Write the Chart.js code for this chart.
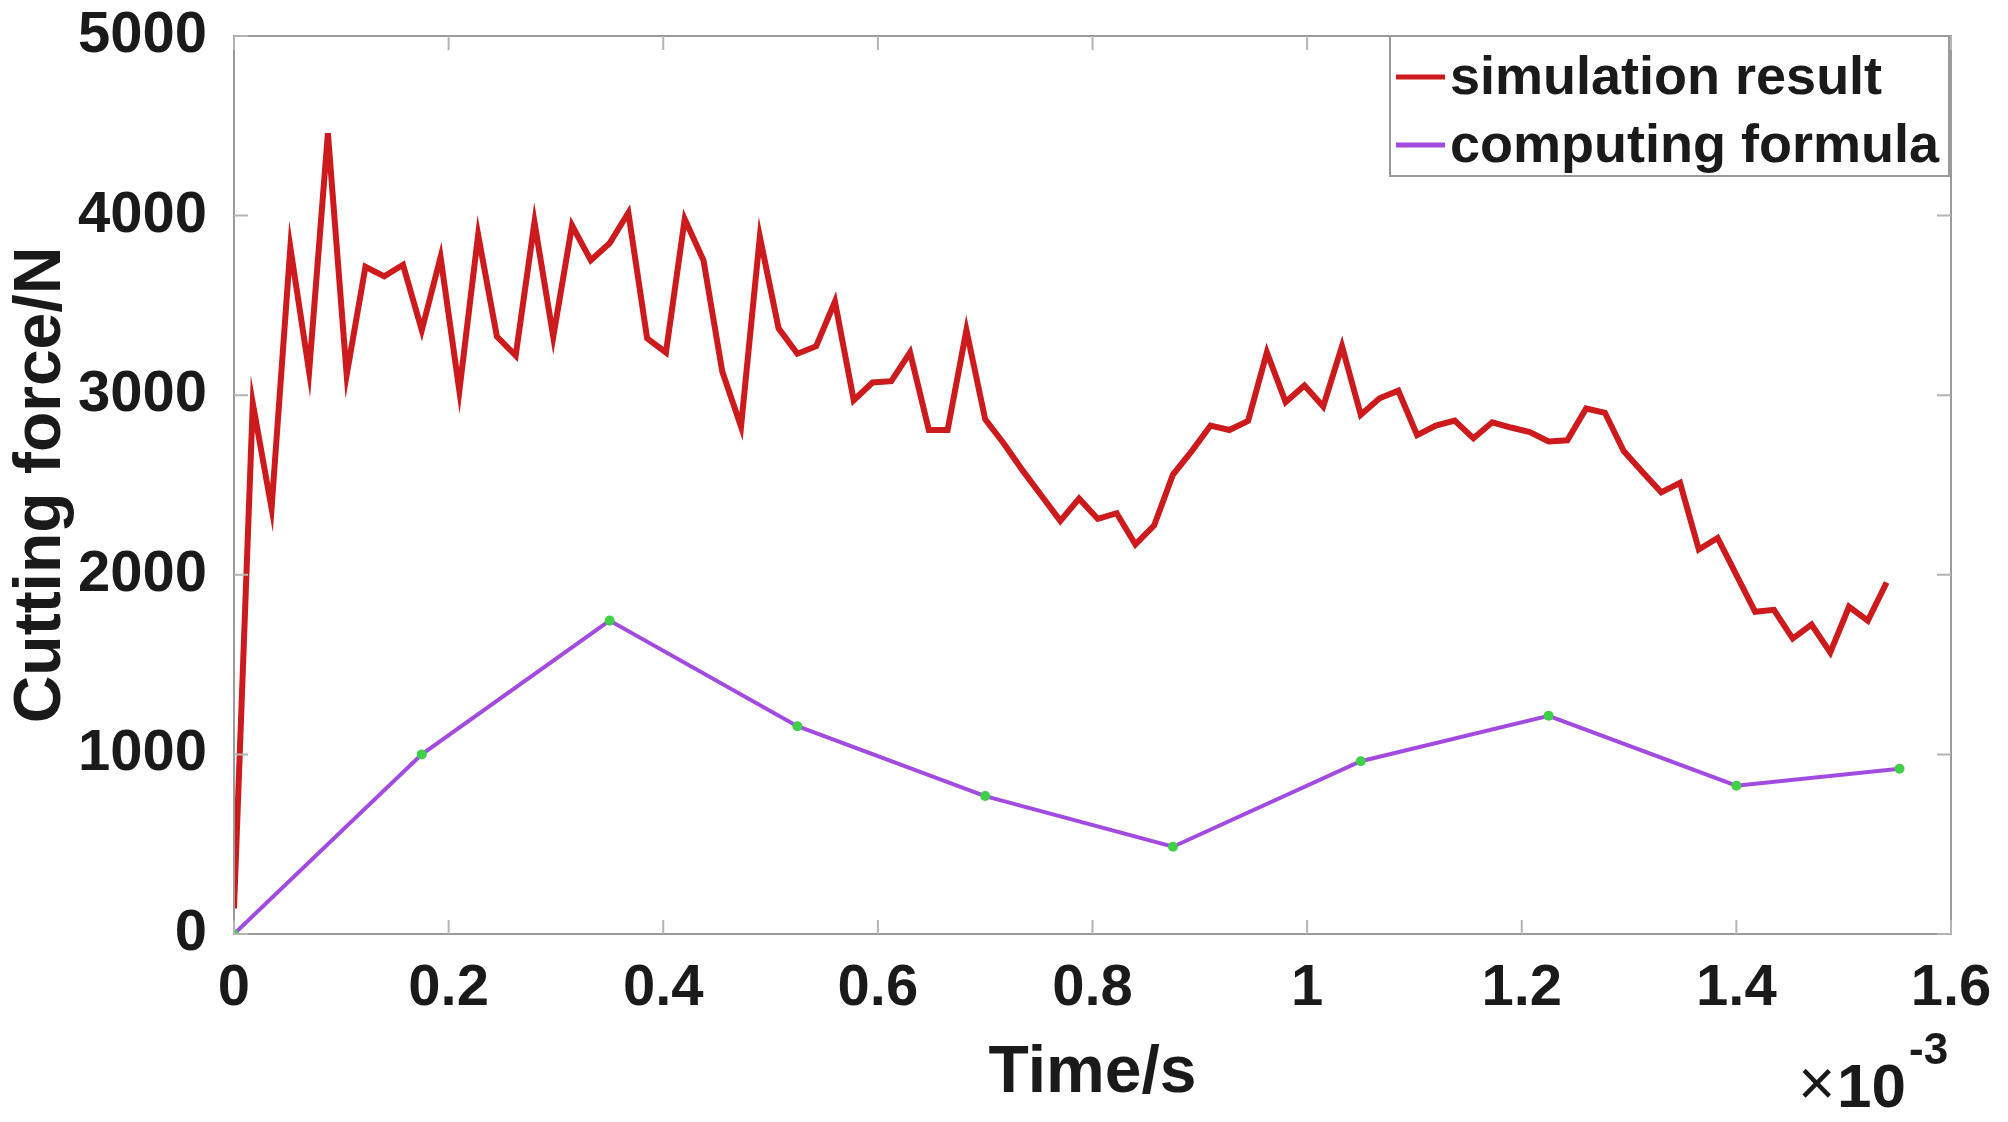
<!DOCTYPE html>
<html>
<head>
<meta charset="utf-8">
<script src="https://cdn.jsdelivr.net/npm/chart.js@4.4.1/dist/chart.umd.min.js"></script>
<style>
  html, body { margin: 0; padding: 0; background: #fff; }
  #wrap { width: 2008px; height: 1122px; position: relative; }
</style>
</head>
<body>
<div id="wrap"><canvas id="forceChart"></canvas></div>
<script>
// time axis in units of 1e-3 s
const simTime = [
  0, 0.0175, 0.035, 0.0525, 0.07, 0.0875, 0.105, 0.1225, 0.14, 0.1575,
  0.175, 0.1925, 0.21, 0.2275, 0.245, 0.2625, 0.28, 0.2975, 0.315, 0.3325,
  0.35, 0.3675, 0.385, 0.4025, 0.42, 0.4375, 0.455, 0.4725, 0.49, 0.5075,
  0.525, 0.5425, 0.56, 0.5775, 0.595, 0.6125, 0.63, 0.6475, 0.665, 0.6825,
  0.7, 0.7175, 0.735, 0.7525, 0.77, 0.7875, 0.805, 0.8225, 0.84, 0.8575,
  0.875, 0.8925, 0.91, 0.9275, 0.945, 0.9625, 0.98, 0.9975, 1.015, 1.0325,
  1.05, 1.0675, 1.085, 1.1025, 1.12, 1.1375, 1.155, 1.1725, 1.19, 1.2075,
  1.225, 1.2425, 1.26, 1.2775, 1.295, 1.3125, 1.33, 1.3475, 1.365, 1.3825,
  1.4, 1.4175, 1.435, 1.4525, 1.47, 1.4875, 1.505, 1.5225, 1.54
];
const simForce = [
  142, 2955, 2371, 3822, 3132, 4459, 3114, 3715, 3662, 3726,
  3362, 3769, 3025, 3892, 3326, 3220, 3963, 3326, 3945, 3751,
  3846, 4016, 3316, 3238, 3981, 3751, 3132, 2825, 3882, 3372,
  3231, 3273, 3521, 2972, 3071, 3078, 3238, 2806, 2806, 3362,
  2866, 2730, 2580, 2440, 2300, 2424, 2311, 2343, 2169, 2275,
  2558, 2689, 2831, 2806, 2857, 3238, 2962, 3054, 2937, 3273,
  2891, 2983, 3025, 2778, 2831, 2859, 2760, 2849, 2820, 2795,
  2742, 2749, 2926, 2902, 2689, 2573, 2459, 2512, 2141, 2205,
  1999, 1794, 1805, 1645, 1723, 1568, 1822, 1745, 1957
];
const formulaTime = [0, 0.175, 0.35, 0.525, 0.7, 0.875, 1.05, 1.225, 1.4, 1.552];
const formulaForce = [0, 1000, 1745, 1157, 768, 486, 962, 1215, 826, 920];

const seriesNames = ["simulation result", "computing formula"];
const xTicks = [0, 0.2, 0.4, 0.6, 0.8, 1, 1.2, 1.4, 1.6];
const yTicks = [0, 1000, 2000, 3000, 4000, 5000];

const FONT = "'Liberation Sans', Arial, sans-serif";
const colors = {
  sim: "#cc1a1d",
  formula: "#a34be0",
  marker: "#3fcf48",
  box: "#9a9a9a",
  text: "#1a1a1a"
};

// box around the axes, inward ticks, legend, exponent note
const matlabFrame = {
  id: "matlabFrame",
  afterDraw(chart) {
    const ctx = chart.ctx;
    const a = chart.chartArea;
    const xs = chart.scales.x;
    const ys = chart.scales.y;
    ctx.save();
    ctx.strokeStyle = colors.box;
    ctx.lineWidth = 2;
    ctx.strokeRect(a.left, a.top, a.right - a.left, a.bottom - a.top);

    ctx.strokeStyle = "#b4b4b4";
    ctx.lineWidth = 2;
    const tl = 14;
    xTicks.forEach((v) => {
      const px = xs.getPixelForValue(v);
      ctx.beginPath();
      ctx.moveTo(px, a.bottom); ctx.lineTo(px, a.bottom - tl);
      ctx.moveTo(px, a.top); ctx.lineTo(px, a.top + tl);
      ctx.stroke();
    });
    yTicks.forEach((v) => {
      const py = ys.getPixelForValue(v);
      ctx.beginPath();
      ctx.moveTo(a.left, py); ctx.lineTo(a.left + tl, py);
      ctx.moveTo(a.right, py); ctx.lineTo(a.right - tl, py);
      ctx.stroke();
    });

    // legend
    ctx.font = "bold 54px " + FONT;
    const ds = chart.data.datasets;
    const maxW = Math.max(...ds.map((d) => ctx.measureText(d.label).width));
    const bw = 62 + maxW + 8;
    const bh = 140;
    const bx = a.right - bw - 2;
    const by = a.top;
    ctx.fillStyle = "#fff";
    ctx.fillRect(bx, by, bw, bh);
    ctx.strokeStyle = colors.box;
    ctx.lineWidth = 2;
    ctx.strokeRect(bx, by, bw, bh);
    ds.forEach((d, i) => {
      const cy = by + 41 + i * 68;
      ctx.strokeStyle = d.borderColor;
      ctx.lineWidth = 5;
      ctx.beginPath();
      ctx.moveTo(bx + 6, cy);
      ctx.lineTo(bx + 55, cy);
      ctx.stroke();
      ctx.fillStyle = colors.text;
      ctx.textBaseline = "middle";
      ctx.textAlign = "left";
      ctx.fillText(d.label, bx + 60, cy + 2);
    });

    // x10^-3 note
    ctx.fillStyle = colors.text;
    ctx.textBaseline = "alphabetic";
    ctx.textAlign = "left";
    ctx.font = "64px " + FONT;
    const ex = a.right - 153;
    ctx.fillText("\u00d7", ex, 1105);
    ctx.font = "bold 62px " + FONT;
    ctx.fillText("10", ex + 39, 1107);
    ctx.font = "bold 44px " + FONT;
    ctx.fillText("-3", ex + 111, 1064);
    ctx.restore();
  }
};

new Chart(document.getElementById("forceChart").getContext("2d"), {
  type: "line",
  data: {
    datasets: [
      {
        label: seriesNames[0],
        data: simTime.map((t, i) => ({ x: t, y: simForce[i] })),
        borderColor: colors.sim,
        borderWidth: 6,
        pointRadius: 0,
        tension: 0
      },
      {
        label: seriesNames[1],
        data: formulaTime.map((t, i) => ({ x: t, y: formulaForce[i] })),
        borderColor: colors.formula,
        borderWidth: 4,
        pointRadius: 5,
        pointBackgroundColor: colors.marker,
        pointBorderWidth: 0,
        tension: 0
      }
    ]
  },
  options: {
    responsive: true,
    maintainAspectRatio: false,
    devicePixelRatio: 1,
    animation: false,
    layout: { autoPadding: false, padding: { top: 36, right: 57, bottom: 0, left: 0 } },
    plugins: {
      legend: { display: false },
      tooltip: { enabled: false }
    },
    scales: {
      x: {
        type: "linear",
        min: 0,
        max: 1.6,
        afterBuildTicks: (s) => { s.ticks = xTicks.map((v) => ({ value: v })); },
        afterFit: (s) => {
          s.height = 188;
          s.paddingLeft = 0;
          s.paddingRight = 0;
        },
        grid: { display: false },
        border: { display: false },
        ticks: {
          color: colors.text,
          padding: 12,
          maxRotation: 0,
          font: { family: FONT, size: 58, weight: "bold" },
          callback: (v) => String(+v.toFixed(1))
        },
        title: {
          display: true,
          text: "Time/s",
          color: colors.text,
          padding: { top: 0, bottom: 9 },
          font: { family: FONT, size: 66, weight: "bold" }
        }
      },
      y: {
        min: 0,
        max: 5000,
        afterBuildTicks: (s) => { s.ticks = yTicks.map((v) => ({ value: v })); },
        afterFit: (s) => {
          s.width = 234;
          s.paddingTop = 0;
          s.paddingBottom = 0;
        },
        grid: { display: false },
        border: { display: false },
        ticks: {
          color: colors.text,
          padding: 19,
          font: { family: FONT, size: 58, weight: "bold" },
          callback: (v) => String(v)
        },
        title: {
          display: true,
          text: "Cutting force/N",
          color: colors.text,
          padding: { top: 2, bottom: 0 },
          font: { family: FONT, size: 66, weight: "bold" }
        }
      }
    }
  },
  plugins: [matlabFrame]
});
</script>
</body>
</html>
